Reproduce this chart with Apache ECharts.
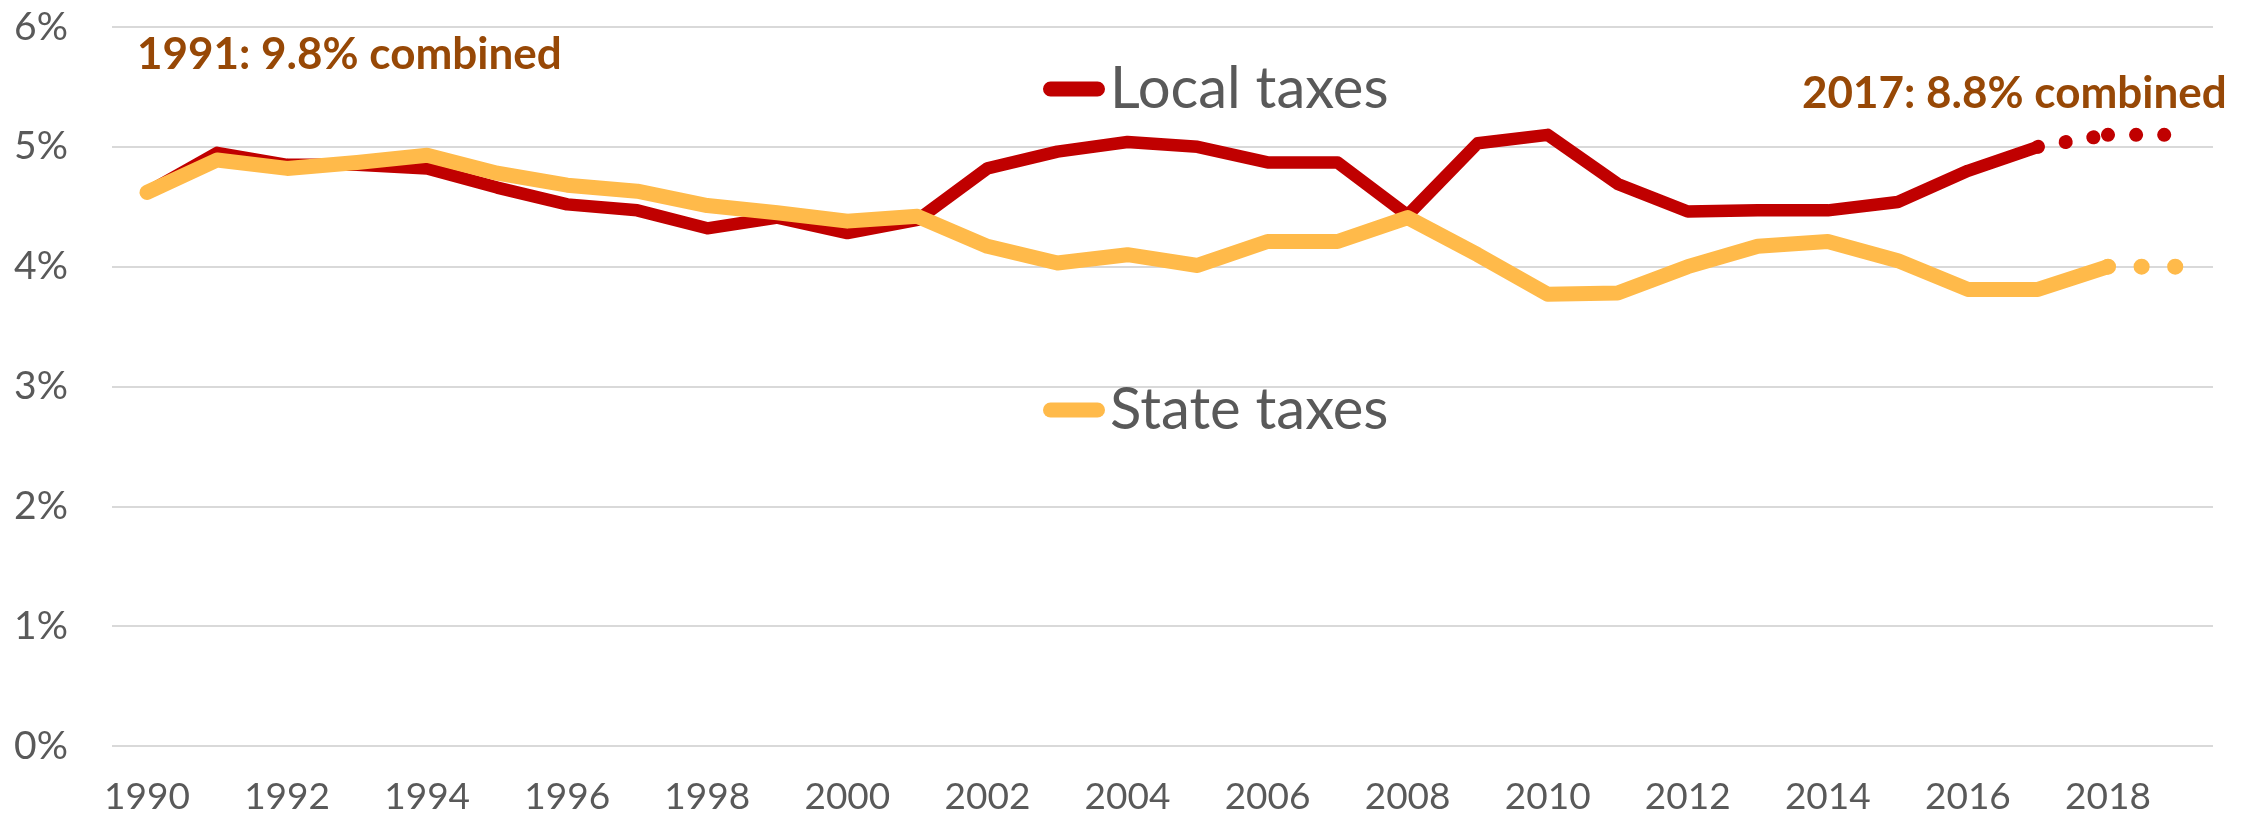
<!DOCTYPE html>
<html>
<head>
<meta charset="utf-8">
<script src="https://cdn.jsdelivr.net/npm/echarts@6/dist/echarts.min.js"></script>
<style>
html,body{margin:0;padding:0;background:#fff;}
#chart{width:2241px;height:822px;}
</style>
</head>
<body>
<div id="chart"></div>
<script>
// ---- data ----
const years = ['1990','1991','1992','1993','1994','1995','1996','1997','1998','1999',
  '2000','2001','2002','2003','2004','2005','2006','2007','2008','2009',
  '2010','2011','2012','2013','2014','2015','2016','2017','2018','2019'];
// Local taxes, % , 1990-2017
const localTaxes = [4.62, 4.95, 4.85, 4.85, 4.82, 4.66, 4.52, 4.47, 4.32, 4.41,
  4.28, 4.39, 4.82, 4.96, 5.04, 5.00, 4.87, 4.87, 4.43, 5.03,
  5.10, 4.69, 4.46, 4.47, 4.47, 4.54, 4.80, 5.00];
// State taxes, %, 1990-2018
const stateTaxes = [4.62, 4.89, 4.82, 4.87, 4.93, 4.78, 4.68, 4.63, 4.51, 4.45,
  4.38, 4.42, 4.17, 4.03, 4.10, 4.01, 4.21, 4.21, 4.41, 4.10,
  3.77, 3.78, 4.00, 4.17, 4.21, 4.05, 3.81, 3.81, 4.00];
// dotted projections
const localProjectionYears = ['2017','2018','2019'];
const localProjection = [5.00, 5.10, 5.10];
const stateProjectionYears = ['2018','2019'];
const stateProjection = [4.00, 4.00];
const yTicks = [0,1,2,3,4,5,6];
const annotations = ['1991: 9.8% combined', '2017: 8.8% combined'];

// ---- helpers ----
function fullSeries(vals, startYear){
  const out = years.map(() => null);
  const s = years.indexOf(startYear);
  vals.forEach((v,i) => { out[s+i] = v; });
  return out;
}
function segment(yrs, vals, a, b){
  const out = years.map(() => null);
  for (let i=a;i<=b;i++){ out[years.indexOf(yrs[i])] = vals[i]; }
  return out;
}

const RED = '#C00000';
const GOLD = '#FFBA4A';
const FONT = 'Lato';
const capsule = 'path://M7.5,0L54.5,0A7.5,7.5,0,0,1,54.5,15L7.5,15A7.5,7.5,0,0,1,7.5,0Z';

const chart = echarts.init(document.getElementById('chart'), null, {renderer:'canvas'});
chart.setOption({
  animation:false,
  backgroundColor:'#fff',
  grid:{left:112, right:28, top:27, bottom:76, containLabel:false},
  xAxis:{
    type:'category', data:years, boundaryGap:true,
    axisLine:{show:false}, axisTick:{show:false},
    axisLabel:{interval:1, color:'#595959', fontFamily:FONT, fontSize:37, margin:33},
    splitLine:{show:false}
  },
  yAxis:{
    type:'value', min:yTicks[0], max:yTicks[yTicks.length-1], interval:1,
    axisLine:{show:false}, axisTick:{show:false},
    axisLabel:{formatter:'{value}%', color:'#595959', fontFamily:FONT, fontSize:39, margin:44},
    splitLine:{lineStyle:{color:'#D9D9D9', width:2}}
  },
  legend:[
    {data:['Local taxes'], left:1038, top:55, itemWidth:62, itemHeight:15, icon:capsule,
     selectedMode:false, itemStyle:{borderWidth:0},
     textStyle:{fontFamily:FONT, fontSize:58, color:'#595959'}},
    {data:['State taxes'], left:1038, top:376, itemWidth:62, itemHeight:15, icon:capsule,
     selectedMode:false, itemStyle:{borderWidth:0},
     textStyle:{fontFamily:FONT, fontSize:58, color:'#595959'}}
  ],
  series:[
    {name:'Local taxes', type:'line', data:fullSeries(localTaxes,'1990'), showSymbol:false,
     itemStyle:{color:RED}, lineStyle:{color:RED, width:12.5, cap:'round', join:'round'}, z:2},
    {name:'Local projection a', type:'line', data:segment(localProjectionYears, localProjection, 0, 1), showSymbol:false,
     itemStyle:{color:RED}, lineStyle:{color:RED, width:14, type:[0.1,28], cap:'round'}, z:2},
    {name:'Local projection b', type:'line', data:segment(localProjectionYears, localProjection, 1, 2), showSymbol:false,
     itemStyle:{color:RED}, lineStyle:{color:RED, width:14, type:[0.1,28], cap:'round'}, z:2},
    {name:'State taxes', type:'line', data:fullSeries(stateTaxes,'1990'), showSymbol:false,
     itemStyle:{color:GOLD}, lineStyle:{color:GOLD, width:15, cap:'round', join:'round'}, z:3},
    {name:'State projection', type:'line', data:segment(stateProjectionYears, stateProjection, 0, 1), showSymbol:false,
     itemStyle:{color:GOLD}, lineStyle:{color:GOLD, width:16, type:[0.1,33.5], cap:'round'}, z:3}
  ],
  graphic:[
    {type:'text', x:137, y:55, style:{text:annotations[0], font:'bold 44px Lato', fill:'#974806', verticalAlign:'middle', align:'left'}},
    {type:'text', x:1802, y:94, style:{text:annotations[1], font:'bold 44px Lato', fill:'#974806', verticalAlign:'middle', align:'left'}}
  ]
});
</script>
</body>
</html>
